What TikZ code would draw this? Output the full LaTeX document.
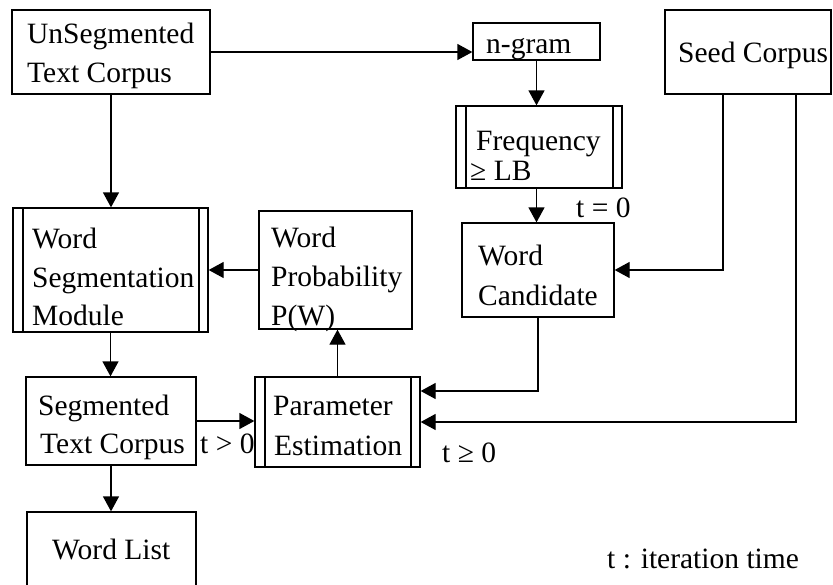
\documentclass[tikz,border=0pt]{standalone}
\usepackage{fontspec}
\setmainfont{Liberation Serif}
\usetikzlibrary{arrows.meta}
\begin{document}
\begin{tikzpicture}[x=1pt,y=-1pt,
  box/.style={draw,line width=1.3pt,inner sep=0pt},
  proc/.style={box,path picture={
    \draw[line width=1.3pt] ([xshift=10pt]path picture bounding box.north west) -- ([xshift=10pt]path picture bounding box.south west);
    \draw[line width=1.3pt] ([xshift=-9pt]path picture bounding box.north east) -- ([xshift=-9pt]path picture bounding box.south east);}},
  lbl/.style={anchor=base west,inner sep=0pt,font=\fontsize{29.5}{38.5}\selectfont},
  arr/.style={line width=1.3pt,-{Triangle[length=15pt,width=16pt]}}]
\useasboundingbox (0,0) rectangle (833,584);
\clip (0,0) rectangle (833,584);
\fill[white] (0,0) rectangle (833,584);

% boxes
\node[box,minimum width=198pt,minimum height=84pt] (unseg) at (111,52) {};
\node[box,minimum width=127pt,minimum height=37pt] (ngram) at (536.5,41.5) {};
\node[box,minimum width=166pt,minimum height=84pt] (seed) at (748,52) {};
\node[proc,minimum width=166pt,minimum height=82pt] (freq) at (539,147) {};
\node[box,minimum width=152pt,minimum height=94pt] (wcand) at (538,270) {};
\node[proc,minimum width=195pt,minimum height=124pt] (wsm) at (110.5,270) {};
\node[box,minimum width=153pt,minimum height=118pt] (wprob) at (335.5,270) {};
\node[box,minimum width=170pt,minimum height=88pt] (seg) at (111,421) {};
\node[proc,minimum width=165pt,minimum height=90pt] (pe) at (337.5,422) {};
\node[box,minimum width=169pt,minimum height=90pt] (wlist) at (111.5,557) {};

% texts
\node[lbl] (t1a) at (27,43) {UnSegmented};
\node[lbl] (t1b) at (27,82) {Text Corpus};
\node[lbl] (t2) at (486,53) {n-gram};
\node[lbl] (t3) at (678,62) {Seed Corpus};
\node[lbl] (t4a) at (476,150) {Frequency};
\node[lbl] (t4b) at (470,180) {≥ LB};
\node[lbl] (t5a) at (478,265) {Word};
\node[lbl] (t5b) at (478,305) {Candidate};
\node[lbl] (t6a) at (32,248) {Word};
\node[lbl] (t6b) at (32,287) {Segmentation};
\node[lbl] (t6c) at (32,325) {Module};
\node[lbl] (t7a) at (271,247) {Word};
\node[lbl] (t7b) at (271,286) {Probability};
\node[lbl] (t7c) at (271,325) {P(W)};
\node[lbl] (t8a) at (38,415) {Segmented};
\node[lbl] (t8b) at (40,453) {Text Corpus};
\node[lbl] (t9a) at (273,415) {Parameter};
\node[lbl] (t9b) at (274,455) {Estimation};
\node[lbl] (t10) at (52,559) {Word List};
\node[lbl] (lt0) at (576,217) {t = 0};
\node[lbl] (ltg) at (200,453) {t > 0};
\node[lbl] (ltge) at (442,462) {t ≥ 0};
\node[lbl] (lit) at (607,568) {t : iteration time};

% connectors
\draw[arr] (unseg.east) -- (ngram.west |- unseg.east);
\draw[arr] (ngram.south) -- (freq.north -| ngram.south);
\draw[arr] (freq.south -| ngram.south) -- (wcand.north -| ngram.south);
\draw[arr] ([xshift=-25pt]seed.south) |- (wcand.east);
\draw[arr] ([xshift=48pt]seed.south) |- (pe.east);
\draw[arr] (wcand.south) |- ([yshift=31pt]pe.east);
\draw[arr] (unseg.south) -- (wsm.north -| unseg.south);
\draw[arr] (wprob.west) -- (wsm.east);
\draw[arr] (wsm.south) -- (seg.north -| wsm.south);
\draw[arr] (seg.east) -- (pe.west |- seg.east);
\draw[arr] (pe.north) -- (wprob.south -| pe.north);
\draw[arr] (seg.south) -- (wlist.north -| seg.south);
\end{tikzpicture}
\end{document}
